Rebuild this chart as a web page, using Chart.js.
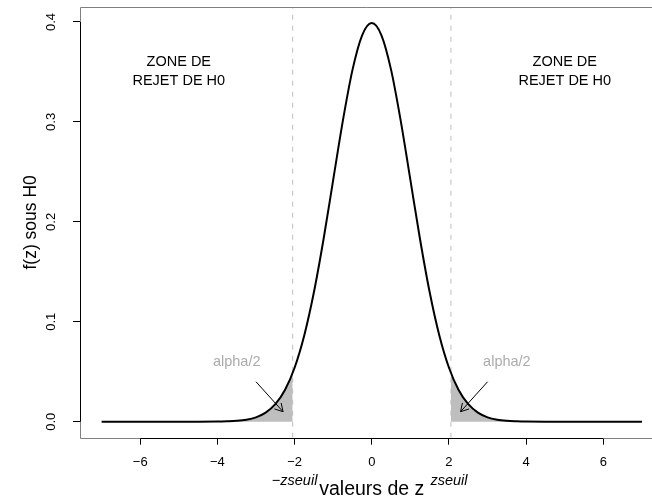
<!DOCTYPE html>
<html><head><meta charset="utf-8">
<script src="https://cdn.jsdelivr.net/npm/chart.js@4.4.0/dist/chart.umd.min.js"></script>
<style>html,body{margin:0;padding:0;background:#fff;overflow:hidden;width:652px;height:500px}canvas{display:block}</style>
</head><body>
<canvas id="c" width="652" height="500"></canvas>
<script>
// ---- data ----
const zValues = [-7,-6,-5,-4.5,-4,-3.75,-3.5,-3.25,-3,-2.75,-2.5,-2.25,-2,-1.75,-1.5,-1.25,-1,-0.75,-0.5,-0.25,0,0.25,0.5,0.75,1,1.25,1.5,1.75,2,2.25,2.5,2.75,3,3.25,3.5,3.75,4,4.5,5,6,7];
const densityValues = [0,0,0,0,0.0001,0.0004,0.0009,0.0020,0.0044,0.0091,0.0175,0.0317,0.0540,0.0863,0.1295,0.1826,0.2420,0.3011,0.3521,0.3867,0.3989,0.3867,0.3521,0.3011,0.2420,0.1826,0.1295,0.0863,0.0540,0.0317,0.0175,0.0091,0.0044,0.0020,0.0009,0.0004,0.0001,0,0,0,0];
const leftTailZ = [-7,-6,-5,-4.5,-4,-3.75,-3.5,-3.25,-3,-2.75,-2.5,-2.25,-2.05];
const leftTailF = [0,0,0,0,0.0001,0.0004,0.0009,0.0020,0.0044,0.0091,0.0175,0.0317,0.0488];
const rightTailZ = [2.05,2.25,2.5,2.75,3,3.25,3.5,3.75,4,4.5,5,6,7];
const rightTailF = [0.0488,0.0317,0.0175,0.0091,0.0044,0.0020,0.0009,0.0004,0.0001,0,0,0,0];
const zThreshold = 2.05;
const xTicks = [-6,-4,-2,0,2,4,6];
const yTicks = [0,0.1,0.2,0.3,0.4];
const xRange = [-7.56, 7.26];   // visible part of the (cropped) plot region
const yRange = [-0.016, 0.415];
const zoneLabelX = [-5, 5];
const zoneLabelY = 0.35;
const zoneLabelLines = ['ZONE DE', 'REJET DE H0'];
const alphaLabelX = [-3.5, 3.5];
const alphaLabelY = 0.06;
const alphaLabelText = 'alpha/2';
const arrowFromX = [-3.0, 3.0];
const arrowFromY = 0.040;
const arrowToX = [-2.3, 2.3];
const arrowToY = 0.010;
const thresholdLabelText = ['\u2212zseuil', 'zseuil'];
const thresholdLabelX = [-2, 2];
const xTitle = 'valeurs de z';
const xTitleAt = 0;
const yTitle = 'f(z) sous H0';

const FF = "'Liberation Sans', Arial, Helvetica, sans-serif";
Chart.defaults.font.family = FF;
Chart.defaults.color = '#000';

const pts = (xs, ys) => xs.map((v, i) => ({x: v, y: ys[i]}));

const overlay = {
  id: 'overlay',
  afterDraw(chart) {
    const {ctx, chartArea: a, scales: {x, y}} = chart;
    ctx.save();
    const L0 = Math.round(a.left) + 0.5, T0 = Math.round(a.top) + 0.5, B0 = Math.round(a.bottom) + 0.5;
    // box (left, top, bottom; right side is cropped)
    ctx.strokeStyle = '#808080'; ctx.lineWidth = 1;
    ctx.beginPath();
    ctx.moveTo(chart.width, T0); ctx.lineTo(L0, T0); ctx.lineTo(L0, B0); ctx.lineTo(chart.width, B0);
    ctx.stroke();
    // axis lines
    ctx.strokeStyle = '#000';
    ctx.beginPath();
    ctx.moveTo(x.getPixelForValue(xTicks[0]), B0);
    ctx.lineTo(x.getPixelForValue(xTicks[xTicks.length - 1]), B0);
    ctx.moveTo(L0, y.getPixelForValue(yTicks[0]));
    ctx.lineTo(L0, y.getPixelForValue(yTicks[yTicks.length - 1]));
    ctx.stroke();
    // zone labels
    ctx.fillStyle = '#000';
    ctx.font = '14.5px ' + FF;
    ctx.textAlign = 'center'; ctx.textBaseline = 'middle';
    zoneLabelX.forEach(zx => {
      const px = x.getPixelForValue(zx), py = y.getPixelForValue(zoneLabelY);
      const lh = 19;
      zoneLabelLines.forEach((t, i) => {
        ctx.fillText(t, px, py + (i - (zoneLabelLines.length - 1) / 2) * lh);
      });
    });
    // alpha labels
    ctx.fillStyle = '#ababab';
    alphaLabelX.forEach(zx => {
      ctx.fillText(alphaLabelText, x.getPixelForValue(zx), y.getPixelForValue(alphaLabelY));
    });
    // arrows
    ctx.strokeStyle = '#000'; ctx.lineWidth = 1;
    arrowFromX.forEach((fx, i) => {
      const x0 = x.getPixelForValue(fx), y0 = y.getPixelForValue(arrowFromY);
      const x1 = x.getPixelForValue(arrowToX[i]), y1 = y.getPixelForValue(arrowToY);
      const ang = Math.atan2(y1 - y0, x1 - x0);
      const L = 9, h = Math.PI / 6;
      ctx.beginPath();
      ctx.moveTo(x0, y0); ctx.lineTo(x1, y1);
      ctx.moveTo(x1 - L * Math.cos(ang - h), y1 - L * Math.sin(ang - h));
      ctx.lineTo(x1, y1);
      ctx.lineTo(x1 - L * Math.cos(ang + h), y1 - L * Math.sin(ang + h));
      ctx.stroke();
    });
    // threshold labels under the axis
    ctx.fillStyle = '#000';
    ctx.font = 'italic 14.5px ' + FF;
    thresholdLabelX.forEach((zx, i) => {
      ctx.fillText(thresholdLabelText[i], x.getPixelForValue(zx), 481);
    });
    // x axis title (centred on the full, uncropped plot region)
    ctx.font = '19.5px ' + FF;
    ctx.fillText(xTitle, x.getPixelForValue(xTitleAt), 489.5);
    ctx.restore();
  }
};

new Chart(document.getElementById('c'), {
  type: 'line',
  data: {
    datasets: [
      {
        label: 'densite', data: pts(zValues, densityValues), order: 0,
        borderColor: '#000', borderWidth: 2, pointRadius: 0, fill: false,
        cubicInterpolationMode: 'monotone'
      },
      {
        label: 'seuil gauche', data: [{x: -zThreshold, y: yRange[0]}, {x: -zThreshold, y: yRange[1]}], order: 1,
        borderColor: '#bdbdbd', borderWidth: 1, borderDash: [5, 6], pointRadius: 0, fill: false
      },
      {
        label: 'seuil droit', data: [{x: zThreshold, y: yRange[0]}, {x: zThreshold, y: yRange[1]}], order: 1,
        borderColor: '#bdbdbd', borderWidth: 1, borderDash: [5, 6], pointRadius: 0, fill: false
      },
      {
        label: 'queue gauche', data: pts(leftTailZ, leftTailF), order: 2,
        borderWidth: 0, borderColor: 'rgba(0,0,0,0)', backgroundColor: '#bebebe', pointRadius: 0,
        fill: 'origin', cubicInterpolationMode: 'monotone'
      },
      {
        label: 'queue droite', data: pts(rightTailZ, rightTailF), order: 2,
        borderWidth: 0, borderColor: 'rgba(0,0,0,0)', backgroundColor: '#bebebe', pointRadius: 0,
        fill: 'origin', cubicInterpolationMode: 'monotone'
      }
    ]
  },
  options: {
    responsive: false, animation: false, devicePixelRatio: 1,
    layout: {padding: {top: 7, right: 0, bottom: 0, left: 0}},
    plugins: {legend: {display: false}, tooltip: {enabled: false}},
    scales: {
      x: {
        type: 'linear', min: xRange[0], max: xRange[1],
        afterBuildTicks: s => { s.ticks = xTicks.map(v => ({value: v})); },
        afterFit: s => { s.height = 62.3; s.paddingLeft = 0; s.paddingRight = 0; s.paddingTop = 0; s.paddingBottom = 0; },
        border: {display: false},
        grid: {drawOnChartArea: false, drawTicks: true, tickLength: 7, color: '#000', lineWidth: 1},
        ticks: {
          callback: v => v < 0 ? '\u2212' + Math.abs(v) : String(v),
          font: {size: 13}, color: '#000', padding: 10, maxRotation: 0, minRotation: 0, autoSkip: false
        },
        title: {display: false}
      },
      y: {
        type: 'linear', min: yRange[0], max: yRange[1],
        afterBuildTicks: s => { s.ticks = yTicks.map(v => ({value: v})); },
        afterFit: s => { s.width = 80; s.paddingTop = 0; s.paddingBottom = 0; s.paddingLeft = 0; s.paddingRight = 0; },
        border: {display: false},
        grid: {drawOnChartArea: false, drawTicks: true, tickLength: 7, color: '#000', lineWidth: 1},
        ticks: {
          callback: v => Number(v).toFixed(1),
          font: {size: 13}, color: '#000', padding: 13, minRotation: 90, maxRotation: 90, crossAlign: 'center'
        },
        title: {display: true, text: yTitle, font: {size: 17.5}, color: '#000', padding: {top: 20.5, bottom: 0}}
      }
    }
  },
  plugins: [overlay]
});
</script>
</body></html>
